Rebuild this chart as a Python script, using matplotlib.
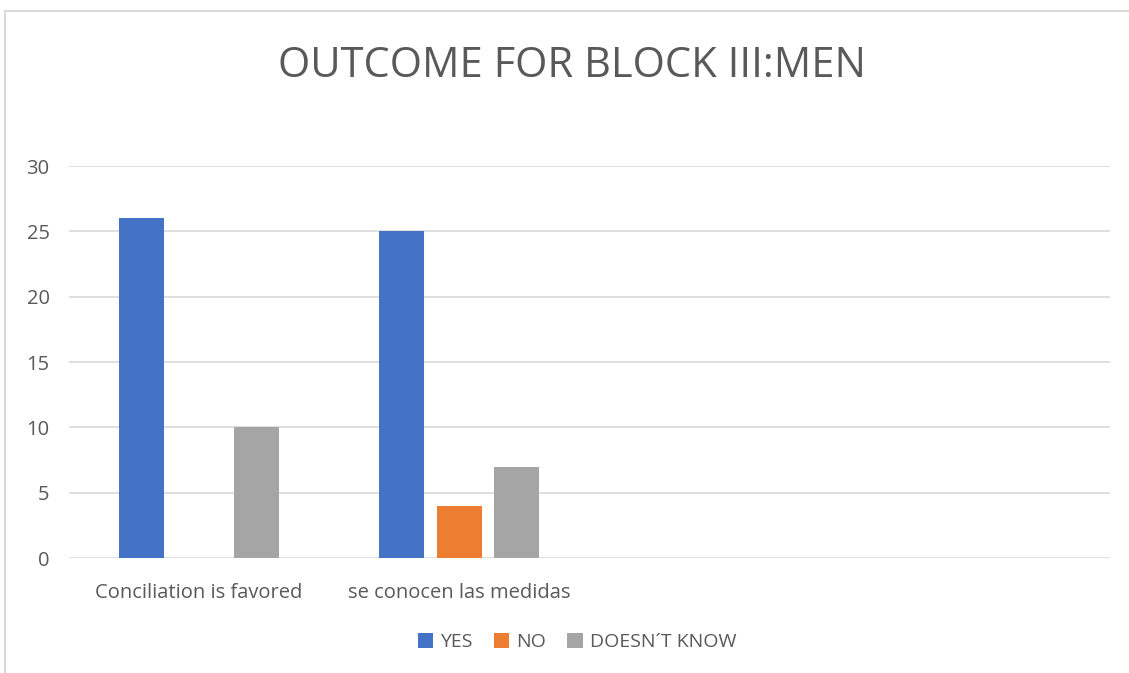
import numpy as np
import matplotlib
matplotlib.use("Agg")
import matplotlib.pyplot as plt
from matplotlib.lines import Line2D

plt.rcParams['font.family'] = ['Open Sans', 'DejaVu Sans']

# data
categories = ["Conciliation is favored", "se conocen las medidas", "", ""]
series_names = ["YES", "NO", "DOESN\u00b4T KNOW"]
yes_vals = [26, 25, np.nan, np.nan]
no_vals = [0, 4, np.nan, np.nan]
dk_vals = [10, 7, np.nan, np.nan]
colors = ["#4472C4", "#ED7D31", "#A5A5A5"]

fig = plt.figure(figsize=(11.29, 6.73), dpi=100)
ax = fig.add_axes([69 / 1129, 115 / 673, 1041 / 1129, 392 / 673])

x = np.arange(len(categories))
w = 0.173
step = 0.221
for i, (vals, name) in enumerate(zip([yes_vals, no_vals, dk_vals], series_names)):
    ax.bar(x + (i - 1) * step, vals, width=w, color=colors[i], label=name, zorder=3)

ax.set_xlim(-0.5, len(categories) - 0.5)
ax.set_ylim(0, 30)
ax.set_yticks(range(0, 31, 5))
ax.grid(axis='y', color='#d9d9d9', linewidth=1.2, zorder=0)
for s in ax.spines.values():
    s.set_visible(False)
ax.tick_params(axis='both', length=0, labelsize=14.5, labelcolor='#595959')
ax.tick_params(axis='y', pad=14)
ax.tick_params(axis='x', pad=18)
ax.set_xticks(x)
ax.set_xticklabels(categories)

fig.text(572 / 1129, 1 - 66 / 673, "OUTCOME FOR BLOCK III:MEN", ha='center', va='center',
         fontsize=30, color='#595959')

leg = fig.legend(loc='center', bbox_to_anchor=(577 / 1129, 1 - 642 / 673), ncol=3,
                 frameon=False, fontsize=14, handlelength=0.8, handleheight=0.8,
                 handletextpad=0.35, columnspacing=1.1)
for t in leg.get_texts():
    t.set_color('#595959')

# chart frame (cut off at right and bottom in the reference)
fig.add_artist(Line2D([5 / 1129, 5 / 1129], [0, 1 - 11 / 673], transform=fig.transFigure,
                      color='#d9d9d9', linewidth=1.5))
fig.add_artist(Line2D([5 / 1129, 1], [1 - 11 / 673, 1 - 11 / 673], transform=fig.transFigure,
                      color='#d9d9d9', linewidth=1.5))

fig.savefig("out.png", dpi=100)
